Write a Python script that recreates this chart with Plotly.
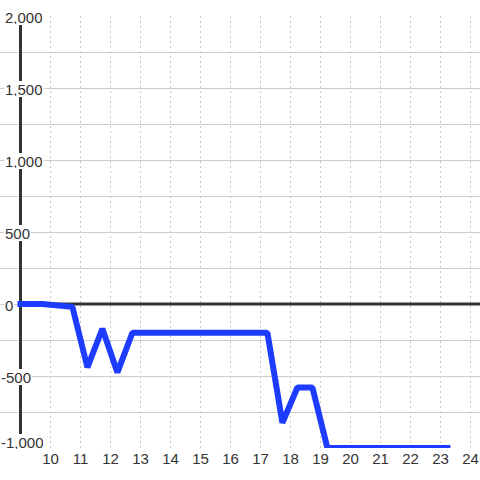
import plotly.graph_objects as go

# data
x_vals = [9.0, 9.73, 10.73, 11.23, 11.73, 12.23, 12.73, 13.23, 13.73, 14.23, 14.73,
          15.23, 15.73, 16.23, 16.73, 17.23, 17.73, 18.23, 18.73, 19.23, 19.73,
          20.23, 20.73, 21.23, 21.73, 22.23, 22.73, 23.23]
y_vals = [0, 0, -20, -440, -172, -475, -200, -200, -200, -200, -200,
          -200, -200, -200, -200, -200, -825, -580, -580, -1000, -1000,
          -1000, -1000, -1000, -1000, -1000, -1000, -1000]
x_ticks = list(range(10, 25))
y_label_vals = [2000, 1500, 1000, 500, 0, -500, -1000]
y_label_text = ["2,000", "1,500", "1,000", "500", "0", "-500", "-1,000"]

FONT = "Liberation Sans, Arial, sans-serif"
X_RANGE = [9 - 20.5 / 30, 9 + 459.5 / 30]
Y_RANGE = [-1000, 2000]

fig = go.Figure()
fig.add_trace(go.Scatter(x=x_vals, y=y_vals, mode="lines",
                         line=dict(color="#1e3cff", width=6),
                         hoverinfo="skip", showlegend=False))

# axis line and zero line
fig.add_shape(type="line", xref="x", yref="y", x0=9, x1=9, y0=Y_RANGE[0], y1=Y_RANGE[1],
              line=dict(color="#333333", width=3), layer="between")
fig.add_shape(type="line", xref="x", yref="y", x0=9, x1=X_RANGE[1], y0=0, y1=0,
              line=dict(color="#333333", width=3), layer="between")

for v, t in zip(y_label_vals, y_label_text):
    fig.add_annotation(xref="paper", yref="y", x=0, y=v, text=t, showarrow=False,
                       xanchor="left", yanchor="middle",
                       xshift=(0 if v < 0 else 4), yshift=(6 if v == -1000 else -1),
                       bgcolor="white", borderpad=1, borderwidth=0, height=14,
                       font=dict(family=FONT, size=15, color="#333333"))

fig.update_layout(
    width=480, height=480,
    margin=dict(l=0, r=0, t=16, b=32),
    paper_bgcolor="white", plot_bgcolor="white",
    font=dict(family=FONT, size=15, color="#333333"),
    xaxis=dict(range=X_RANGE, tickvals=x_ticks, ticktext=[str(v) for v in x_ticks],
               showgrid=True, gridcolor="#c8c8c8", griddash="2px,3px", gridwidth=1,
               zeroline=False, showline=False, ticks="",
               tickfont=dict(family=FONT, size=15, color="#333333")),
    yaxis=dict(range=Y_RANGE, dtick=250, tick0=0, showticklabels=False,
               showgrid=True, gridcolor="#cccccc", gridwidth=1,
               zeroline=False, showline=False, ticks=""),
)

fig.write_html(
    "out.html",
    config={"displayModeBar": False},
    post_script=(
        "document.body.style.margin='0px';document.body.style.padding='0px';"
        "document.querySelectorAll('.scatterlayer path.js-line').forEach(function(p){"
        "p.style.strokeLinecap='square';p.style.strokeLinejoin='bevel';});"
    ),
)
